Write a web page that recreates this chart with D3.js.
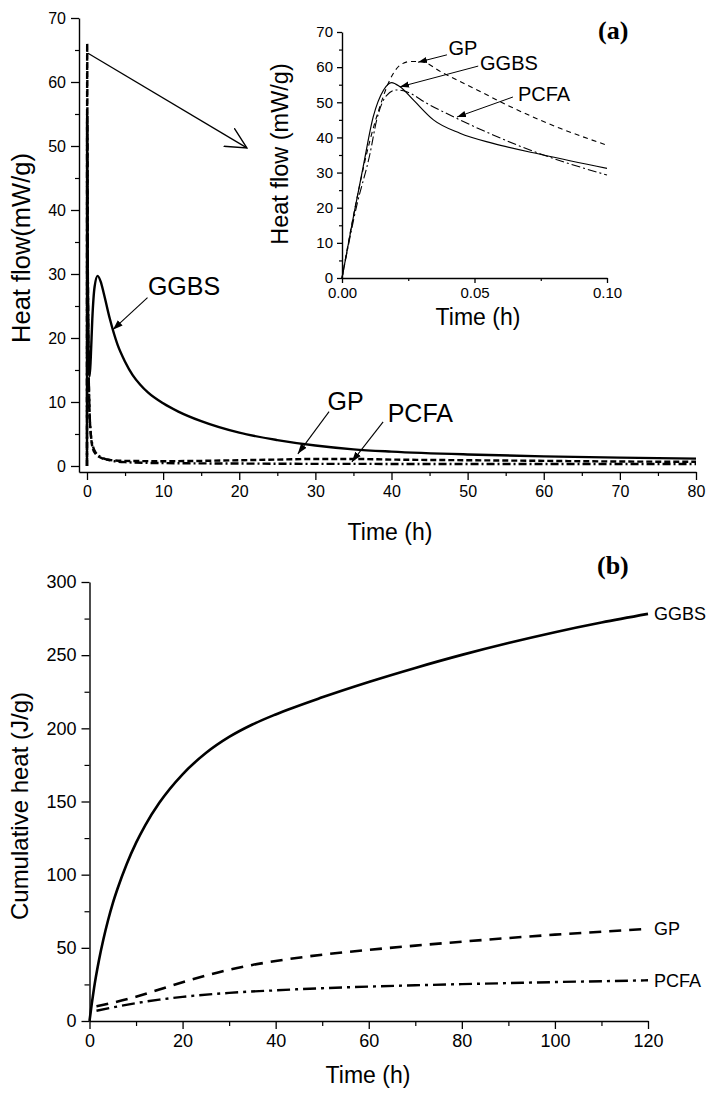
<!DOCTYPE html>
<html><head><meta charset="utf-8">
<script src="https://cdn.jsdelivr.net/npm/d3@7"></script>
<style>
html,body{margin:0;padding:0;background:#fff;}
svg{display:block;}
text{font-family:"Liberation Sans",Arial,sans-serif;fill:#000;}
.tick text{font-family:"Liberation Sans",Arial,sans-serif;}
</style></head>
<body><svg id="c" width="710" height="1093"></svg>
<script>
// ---------- DATA ----------
// Panel (a) main: heat flow (mW/g) vs time (h)
const flowTime_GGBS = [0,0.018,0.1,0.2,0.35,0.5,0.7,1.0,1.4,1.8,2.2,3,4,5,6,7,8,10,12,15,20,25,30,35,40,50,60,70,80];
const flow_GGBS     = [0,55,30,18,14,17,23,28,29.7,28.8,27,23,19,16.3,14.2,12.7,11.5,9.8,8.5,7.0,5.2,4.05,3.2,2.6,2.25,1.8,1.5,1.3,1.15];
const flowTime_GP   = [0,0.025,0.08,0.15,0.3,0.5,0.8,1.2,2,3,5,10,15,20,25,30,35,40,50,60,70,80];
const flow_GP       = [0,66,40,22,10,5,2.6,1.8,1.2,0.95,0.8,0.75,0.8,0.9,1.0,1.1,1.1,1.0,0.9,0.8,0.7,0.65];
const flowTime_PCFA = [0,0.02,0.08,0.15,0.3,0.5,0.8,1.2,2,3,5,10,20,30,40,50,60,70,80];
const flow_PCFA     = [0,54,38,22,10,5,3.0,2.0,1.3,0.9,0.6,0.45,0.38,0.33,0.32,0.3,0.3,0.3,0.3];

// Panel (a) inset: first 0.1 h
const insetTime_GGBS = [0,0.0043,0.008,0.0118,0.0157,0.0187,0.0219,0.027,0.0345,0.0445,0.057,0.076,0.1];
const inset_GGBS     = [0,17.4,31.7,45.9,53.5,55.6,54.4,50.6,45,41.2,38.3,35,31.2];
const insetTime_GP   = [0,0.0055,0.0106,0.0143,0.018,0.022,0.0257,0.0294,0.0382,0.051,0.0634,0.0823,0.1];
const inset_GP       = [0,22.2,39.3,48.8,56.3,60.6,61.6,61.6,58.3,53.5,48.8,42.6,37.8];
const insetTime_PCFA = [0,0.0055,0.0106,0.0131,0.0169,0.0206,0.0244,0.032,0.0445,0.057,0.076,0.1];
const inset_PCFA     = [0,20.4,35.5,45,52,53.5,53,49.7,45,40.7,35,29.3];

// Panel (b): cumulative heat (J/g) vs time (h)
const cumTime_GGBS = [0,0.5,1,2,3,4,5,6,8,10,12,15,20,25,30,35,40,50,60,70,80,90,100,110,120];
const cum_GGBS     = [0,12,23,41,56,69,80.4,90.2,107.3,121.7,133.9,149.1,168.6,183.1,194.1,202.6,209.5,221.2,231.7,241.3,250.2,258.3,265.7,272.3,278.2];
const cumTime_GP   = [1.5,5,10,15,20,25,30,35,40,50,60,70,80,90,100,110,120];
const cum_GP       = [10,12.5,16.5,21.5,26.5,31,35,38.3,41,45.3,48.6,51.5,54.2,56.7,59,61,63];
const cumTime_PCFA = [1.5,5,10,15,20,30,40,50,60,70,80,90,100,110,120];
const cum_PCFA     = [7,9.3,12.2,14.6,16.5,19.2,21,22.4,23.5,24.4,25.2,25.9,26.6,27.2,27.8];

// Tick labels
const mainYTicks = [0,10,20,30,40,50,60,70];
const mainXTicks = [0,10,20,30,40,50,60,70,80];
const insetYTicks = [0,10,20,30,40,50,60,70];
const insetXTicks = [0,0.05,0.10];
const cumYTicks = [0,50,100,150,200,250,300];
const cumXTicks = [0,20,40,60,80,100,120];

// ---------- DRAW ----------
const svg = d3.select("#c");
const defs = svg.append("defs");
function mk(id, w){
  defs.append("marker").attr("id",id).attr("viewBox","0 0 10 10").attr("refX",10).attr("refY",5)
    .attr("markerWidth",w).attr("markerHeight",w).attr("markerUnits","userSpaceOnUse").attr("orient","auto")
    .append("path").attr("d","M0,1.5 L10,5 L0,8.5 z").attr("fill","#000");
}
mk("ah",10); mk("ahs",9);
defs.append("marker").attr("id","vee").attr("viewBox","0 0 20 20").attr("refX",19).attr("refY",10)
  .attr("markerWidth",22).attr("markerHeight",22).attr("markerUnits","userSpaceOnUse").attr("orient","auto")
  .append("path").attr("d","M0,0.5 L19,10 L0,19.5").attr("fill","none").attr("stroke","#000").attr("stroke-width",1.3);

function zip(xs, ys){ return xs.map((x,i)=>[x,ys[i]]); }
function range(a,b,s){ const r=[]; for(let v=a; v<=b+1e-9; v+=s) r.push(+v.toFixed(6)); return r; }

function drawAxis(g, axisFn, scale, major, minor, majLen, minLen, fmt, fs, pad){
  const a = g.append("g").call(axisFn(scale).tickValues(major).tickSize(majLen).tickSizeOuter(0)
       .tickFormat(fmt).tickPadding(pad));
  a.selectAll("text").style("font-size",fs+"px");
  a.select(".domain").attr("stroke-width",1.4);
  a.selectAll(".tick line").attr("stroke-width",1.3);
  const b = g.append("g").call(axisFn(scale).tickValues(minor).tickSize(minLen).tickSizeOuter(0).tickFormat(""));
  b.select(".domain").remove();
  b.selectAll(".tick line").attr("stroke-width",1.2);
  return a;
}

// ===== Panel (a) main =====
const xT = d3.scaleLinear([-1.05,80],[79,696]);
const yT = d3.scaleLinear([-0.94,70],[472,18]);
const gT = svg.append("g");
drawAxis(gT.append("g").attr("transform","translate(79,0)"), d3.axisLeft, yT, mainYTicks, range(5,65,10), 8, 4, d3.format("d"), 16, 5);
drawAxis(gT.append("g").attr("transform","translate(0,472)"), d3.axisBottom, xT, mainXTicks, range(5,75,10), 8, 4, d3.format("d"), 16, 6);

const lineT = d3.line().x(d=>xT(d[0])).y(d=>yT(d[1])).curve(d3.curveMonotoneX);
gT.append("path").attr("d",lineT(zip(flowTime_PCFA,flow_PCFA))).attr("fill","none").attr("stroke","#000")
  .attr("stroke-width",2.4).attr("stroke-dasharray","8,3,2,3");
gT.append("path").attr("d",lineT(zip(flowTime_GP,flow_GP))).attr("fill","none").attr("stroke","#000")
  .attr("stroke-width",2.4).attr("stroke-dasharray","6,3");
gT.append("path").attr("d",lineT(zip(flowTime_GGBS,flow_GGBS))).attr("fill","none").attr("stroke","#000")
  .attr("stroke-width",2.4);

gT.append("text").attr("transform","translate(30,248) rotate(-90)").attr("text-anchor","middle")
  .style("font-size","25.5px").text("Heat flow(mW/g)");
gT.append("text").attr("x",390).attr("y",540).attr("text-anchor","middle").style("font-size","23px").text("Time (h)");

// annotations (data coords)
const annT = [
  {label:"GGBS", tx:8.0, ty:26.7, from:[7.95,26.3], to:[3.4,21.3]},
  {label:"GP",   tx:31.6, ty:8.8, from:[31.8,8.5], to:[27.7,1.9]},
  {label:"PCFA", tx:39.5, ty:6.9, from:[38.9,6.9], to:[34.8,0.65]}
];
annT.forEach(a=>{
  gT.append("text").attr("x",xT(a.tx)).attr("y",yT(a.ty)).style("font-size","25px").text(a.label);
  gT.append("line").attr("x1",xT(a.from[0])).attr("y1",yT(a.from[1])).attr("x2",xT(a.to[0])).attr("y2",yT(a.to[1]))
    .attr("stroke","#000").attr("stroke-width",1.1).attr("marker-end","url(#ah)");
});
// big arrow to inset
gT.append("line").attr("x1",xT(0.13)).attr("y1",yT(64.5)).attr("x2",xT(21)).attr("y2",yT(49.7))
  .attr("stroke","#000").attr("stroke-width",1.3).attr("marker-end","url(#vee)");
gT.append("text").attr("x",598).attr("y",39).style("font-family","'Liberation Serif','Times New Roman',serif")
  .style("font-weight","bold").style("font-size","26px").text("(a)");

// ===== Inset =====
const xI = d3.scaleLinear([0,0.1],[342,607]);
const yI = d3.scaleLinear([0,70],[278,32]);
const gI = svg.append("g");
drawAxis(gI.append("g").attr("transform","translate(342,0)"), d3.axisLeft, yI, insetYTicks, range(5,65,10), 5, 3, d3.format("d"), 15, 4);
drawAxis(gI.append("g").attr("transform","translate(0,278)"), d3.axisBottom, xI, insetXTicks, [0.025,0.075], 5, 3, d3.format(".2f"), 15, 4);
const lineI = d3.line().x(d=>xI(d[0])).y(d=>yI(d[1])).curve(d3.curveMonotoneX);
gI.append("path").attr("d",lineI(zip(insetTime_GP,inset_GP))).attr("fill","none").attr("stroke","#000")
  .attr("stroke-width",1.1).attr("stroke-dasharray","5,4");
gI.append("path").attr("d",lineI(zip(insetTime_PCFA,inset_PCFA))).attr("fill","none").attr("stroke","#000")
  .attr("stroke-width",1.1).attr("stroke-dasharray","9,3,2,3");
gI.append("path").attr("d",lineI(zip(insetTime_GGBS,inset_GGBS))).attr("fill","none").attr("stroke","#000")
  .attr("stroke-width",1.2);
gI.append("text").attr("transform","translate(288,154) rotate(-90)").attr("text-anchor","middle")
  .style("font-size","23.5px").text("Heat flow (mW/g)");
gI.append("text").attr("x",478).attr("y",325).attr("text-anchor","middle").style("font-size","23px").text("Time (h)");
const annI = [
  {label:"GP",   tx:0.0402, ty:63.4, from:[0.0396,63.5], to:[0.0287,61.4]},
  {label:"GGBS", tx:0.0521, ty:59.1, from:[0.0514,60.3], to:[0.0219,54.4]},
  {label:"PCFA", tx:0.0664, ty:50.3, from:[0.0645,51.5], to:[0.0434,45.8]}
];
annI.forEach(a=>{
  gI.append("text").attr("x",xI(a.tx)).attr("y",yI(a.ty)).style("font-size","20px").text(a.label);
  gI.append("line").attr("x1",xI(a.from[0])).attr("y1",yI(a.from[1])).attr("x2",xI(a.to[0])).attr("y2",yI(a.to[1]))
    .attr("stroke","#000").attr("stroke-width",1).attr("marker-end","url(#ahs)");
});

// ===== Panel (b) =====
const xB = d3.scaleLinear([0,120],[89.5,648]);
const yB = d3.scaleLinear([0,300],[1021,582]);
const gB = svg.append("g");
drawAxis(gB.append("g").attr("transform","translate(89.5,0)"), d3.axisLeft, yB, cumYTicks, range(25,275,50), 8, 5, d3.format("d"), 18, 5);
drawAxis(gB.append("g").attr("transform","translate(0,1021)"), d3.axisBottom, xB, cumXTicks, range(10,110,20), 8, 5, d3.format("d"), 18, 5);
const lineB = d3.line().x(d=>xB(d[0])).y(d=>yB(d[1])).curve(d3.curveMonotoneX);
gB.append("path").attr("d",lineB(zip(cumTime_GGBS,cum_GGBS))).attr("fill","none").attr("stroke","#000").attr("stroke-width",2.6);
gB.append("path").attr("d",lineB(zip(cumTime_GP,cum_GP))).attr("fill","none").attr("stroke","#000").attr("stroke-width",2.6)
  .attr("stroke-dasharray","12,8");
gB.append("path").attr("d",lineB(zip(cumTime_PCFA,cum_PCFA))).attr("fill","none").attr("stroke","#000").attr("stroke-width",2.4)
  .attr("stroke-dasharray","13,5,3,5");
const endLabels = [["GGBS",cum_GGBS],["GP",cum_GP],["PCFA",cum_PCFA]];
endLabels.forEach(([lab,arr])=>{
  gB.append("text").attr("x",xB(120)+6).attr("y",yB(arr[arr.length-1])).attr("dy","0.35em")
    .style("font-size","18px").text(lab);
});
gB.append("text").attr("transform","translate(28,806) rotate(-90)").attr("text-anchor","middle")
  .style("font-size","24px").text("Cumulative heat (J/g)");
gB.append("text").attr("x",368).attr("y",1083).attr("text-anchor","middle").style("font-size","23px").text("Time (h)");
gB.append("text").attr("x",597).attr("y",574).style("font-family","'Liberation Serif','Times New Roman',serif")
  .style("font-weight","bold").style("font-size","26px").text("(b)");
</script></body></html>
